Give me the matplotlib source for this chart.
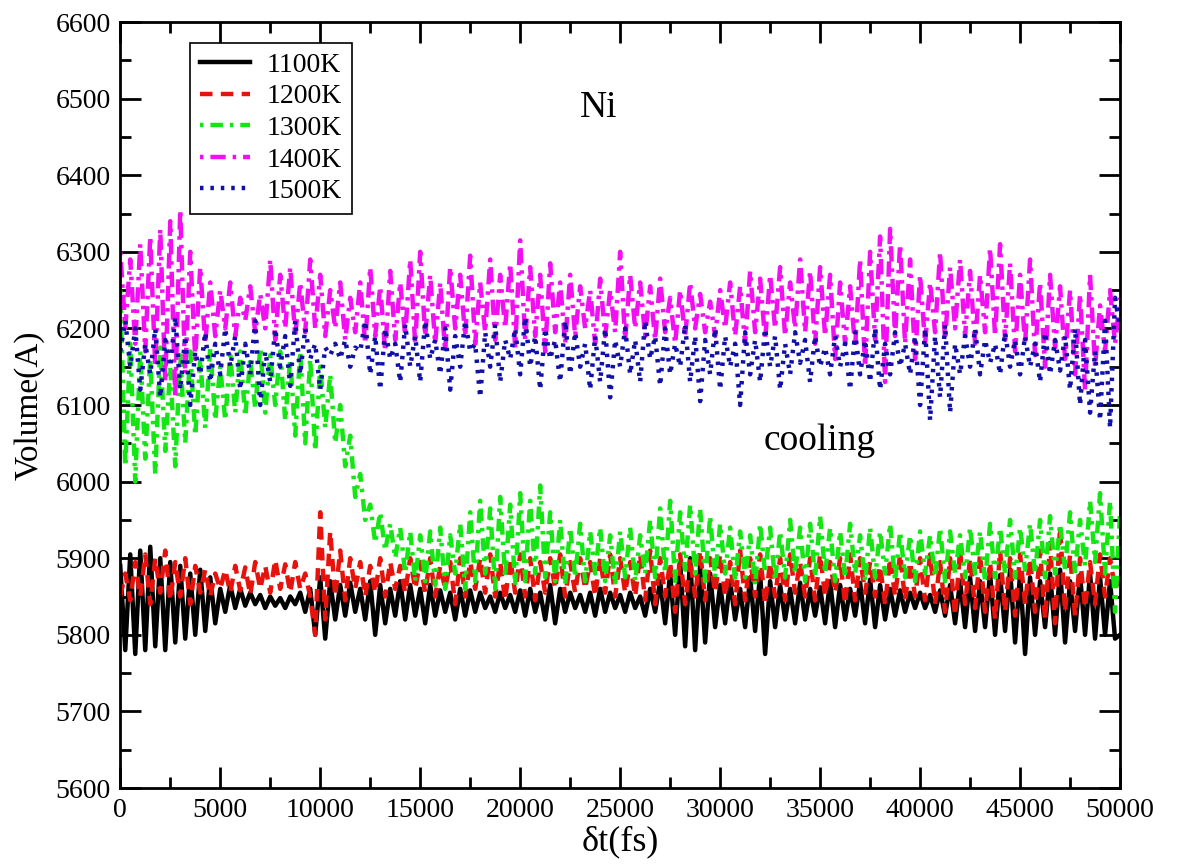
"""Volume of Ni during cooling at several temperatures."""

import numpy as np
import matplotlib
matplotlib.use("Agg")
import matplotlib.pyplot as plt
from matplotlib.ticker import MultipleLocator

plt.rcParams["font.family"] = ["Liberation Serif", "DejaVu Serif"]
plt.rcParams["lines.scale_dashes"] = False

# sample times (fs), one reading every 250 fs
time_fs = np.arange(0, 50001, 250)

vol_1100 = [
    5890, 5780, 5905, 5775, 5910, 5780, 5915, 5785, 5900, 5780, 5895, 5790, 5890, 5795, 5880, 5800, 5885, 5805, 5875, 5815,
    5860, 5830, 5865, 5835, 5860, 5838, 5855, 5840, 5852, 5835, 5850, 5838, 5848, 5835, 5850, 5840, 5855, 5830, 5860, 5800,
    5875, 5795, 5870, 5820, 5865, 5825, 5868, 5830, 5860, 5820, 5870, 5800, 5865, 5815, 5860, 5825, 5870, 5820, 5865, 5825,
    5860, 5815, 5865, 5825, 5858, 5830, 5855, 5820, 5860, 5825, 5858, 5830, 5855, 5835, 5850, 5830, 5855, 5835, 5852, 5830,
    5858, 5825, 5860, 5830, 5855, 5820, 5865, 5815, 5860, 5830, 5855, 5835, 5852, 5830, 5855, 5825, 5860, 5830, 5855, 5835,
    5852, 5830, 5855, 5835, 5850, 5825, 5860, 5830, 5870, 5815, 5880, 5800, 5895, 5785, 5900, 5780, 5890, 5790, 5880, 5810,
    5865, 5815, 5870, 5820, 5860, 5810, 5875, 5805, 5880, 5775, 5870, 5810, 5865, 5820, 5860, 5815, 5868, 5820, 5860, 5825,
    5862, 5815, 5870, 5810, 5865, 5820, 5860, 5825, 5868, 5815, 5872, 5810, 5865, 5820, 5860, 5825, 5858, 5830, 5855, 5835,
    5855, 5835, 5852, 5830, 5858, 5825, 5865, 5815, 5870, 5810, 5875, 5805, 5870, 5810, 5880, 5800, 5878, 5805, 5885, 5790,
    5880, 5775, 5875, 5800, 5870, 5810, 5880, 5800, 5885, 5790, 5870, 5805, 5878, 5800, 5880, 5795, 5875, 5800, 5870, 5795,
    5800,
]

vol_1200 = [
    5850, 5880, 5845, 5895, 5850, 5905, 5840, 5900, 5855, 5910, 5845, 5895, 5850, 5900, 5840, 5890, 5855, 5885, 5850, 5880,
    5860, 5885, 5855, 5890, 5858, 5888, 5852, 5895, 5860, 5890, 5855, 5898, 5860, 5892, 5855, 5895, 5860, 5880, 5850, 5800,
    5960, 5820, 5935, 5850, 5910, 5845, 5900, 5860, 5895, 5850, 5890, 5855, 5900, 5850, 5895, 5860, 5890, 5855, 5900, 5860,
    5895, 5855, 5900, 5850, 5890, 5860, 5895, 5840, 5900, 5850, 5895, 5860, 5900, 5855, 5905, 5850, 5895, 5845, 5900, 5855,
    5905, 5850, 5900, 5845, 5895, 5855, 5900, 5860, 5905, 5850, 5895, 5855, 5900, 5860, 5895, 5850, 5900, 5855, 5905, 5850,
    5900, 5855, 5895, 5850, 5905, 5845, 5910, 5840, 5900, 5850, 5895, 5830, 5905, 5840, 5900, 5850, 5910, 5845, 5900, 5855,
    5905, 5850, 5895, 5840, 5910, 5845, 5900, 5850, 5905, 5840, 5895, 5850, 5900, 5845, 5905, 5855, 5895, 5850, 5900, 5845,
    5905, 5850, 5895, 5855, 5900, 5840, 5905, 5845, 5900, 5855, 5895, 5850, 5890, 5840, 5900, 5850, 5905, 5845, 5895, 5850,
    5900, 5845, 5905, 5840, 5895, 5830, 5900, 5825, 5910, 5840, 5900, 5835, 5905, 5830, 5895, 5820, 5910, 5830, 5900, 5825,
    5905, 5840, 5900, 5830, 5910, 5820, 5920, 5815, 5940, 5830, 5905, 5825, 5900, 5835, 5895, 5840, 5905, 5850, 5900, 5860,
    5870,
]

vol_1300 = [
    6250, 6020, 6180, 6000, 6170, 6030, 6160, 6010, 6175, 6040, 6150, 6020, 6165, 6050, 6170, 6060, 6160, 6070, 6175, 6080,
    6150, 6080, 6165, 6090, 6170, 6085, 6160, 6095, 6175, 6090, 6165, 6100, 6170, 6080, 6160, 6060, 6170, 6050, 6160, 6040,
    6150, 6070, 6140, 6050, 6100, 6020, 6060, 5980, 6010, 5950, 5970, 5920, 5960, 5910, 5945, 5900, 5940, 5880, 5935, 5870,
    5930, 5870, 5935, 5865, 5940, 5860, 5930, 5880, 5945, 5860, 5960, 5870, 5975, 5880, 5965, 5860, 5980, 5875, 5970, 5865,
    5985, 5870, 5975, 5880, 5995, 5875, 5960, 5870, 5950, 5865, 5940, 5875, 5945, 5870, 5935, 5880, 5940, 5870, 5930, 5865,
    5935, 5875, 5940, 5870, 5930, 5880, 5950, 5875, 5965, 5880, 5975, 5870, 5960, 5885, 5970, 5880, 5965, 5870, 5955, 5875,
    5945, 5880, 5940, 5870, 5935, 5875, 5930, 5865, 5945, 5880, 5940, 5870, 5935, 5875, 5950, 5880, 5940, 5870, 5945, 5875,
    5955, 5880, 5940, 5870, 5935, 5875, 5945, 5880, 5930, 5870, 5940, 5875, 5935, 5880, 5945, 5870, 5935, 5875, 5930, 5870,
    5935, 5880, 5930, 5875, 5940, 5870, 5935, 5880, 5930, 5875, 5940, 5880, 5935, 5870, 5945, 5875, 5940, 5880, 5950, 5875,
    5940, 5885, 5945, 5880, 5950, 5875, 5955, 5880, 5945, 5885, 5960, 5880, 5950, 5890, 5975, 5895, 5985, 5880, 5975, 5830,
    5960,
]

vol_1400 = [
    6300, 6200, 6290, 6180, 6310, 6170, 6320, 6150, 6330, 6130, 6340, 6110, 6355, 6140, 6300, 6160, 6280, 6180, 6260, 6190,
    6250, 6200, 6260, 6190, 6240, 6210, 6255, 6195, 6245, 6200, 6290, 6185, 6270, 6200, 6280, 6190, 6260, 6195, 6290, 6200,
    6270, 6190, 6250, 6200, 6260, 6185, 6240, 6195, 6260, 6180, 6280, 6190, 6255, 6170, 6275, 6185, 6260, 6190, 6290, 6180,
    6300, 6190, 6270, 6180, 6260, 6170, 6280, 6200, 6270, 6190, 6295, 6180, 6260, 6195, 6290, 6185, 6270, 6200, 6285, 6175,
    6315, 6185, 6280, 6190, 6270, 6170, 6285, 6195, 6260, 6180, 6270, 6190, 6255, 6200, 6250, 6180, 6265, 6190, 6250, 6195,
    6300, 6185, 6270, 6200, 6260, 6190, 6255, 6185, 6265, 6195, 6240, 6180, 6250, 6190, 6260, 6200, 6245, 6195, 6235, 6190,
    6250, 6200, 6260, 6190, 6255, 6180, 6275, 6195, 6265, 6185, 6270, 6200, 6280, 6190, 6260, 6200, 6290, 6195, 6275, 6180,
    6280, 6190, 6270, 6160, 6260, 6180, 6255, 6175, 6290, 6150, 6300, 6185, 6320, 6130, 6330, 6190, 6310, 6180, 6290, 6160,
    6270, 6180, 6260, 6195, 6300, 6185, 6280, 6200, 6290, 6190, 6275, 6180, 6270, 6195, 6305, 6190, 6310, 6185, 6285, 6170,
    6270, 6180, 6290, 6165, 6260, 6150, 6270, 6175, 6255, 6160, 6250, 6140, 6245, 6120, 6270, 6150, 6230, 6170, 6250, 6180,
    6240,
]

vol_1500 = [
    6170, 6210, 6150, 6200, 6120, 6180, 6140, 6200, 6110, 6185, 6150, 6215, 6120, 6190, 6100, 6170, 6140, 6195, 6130, 6180,
    6140, 6200, 6150, 6190, 6120, 6180, 6140, 6210, 6100, 6170, 6130, 6200, 6150, 6190, 6125, 6210, 6140, 6200, 6160, 6180,
    6120, 6175, 6165, 6180, 6160, 6185, 6150, 6175, 6170, 6210, 6140, 6190, 6120, 6200, 6160, 6180, 6130, 6205, 6150, 6190,
    6130, 6210, 6160, 6185, 6140, 6200, 6120, 6190, 6150, 6210, 6170, 6180, 6110, 6195, 6150, 6205, 6130, 6185, 6160, 6200,
    6140, 6215, 6150, 6190, 6120, 6200, 6160, 6185, 6130, 6210, 6140, 6195, 6150, 6180, 6120, 6190, 6130, 6200, 6110, 6185,
    6150, 6200, 6140, 6185, 6130, 6210, 6160, 6190, 6125, 6200, 6140, 6180, 6150, 6205, 6130, 6190, 6105, 6185, 6140, 6200,
    6120, 6190, 6150, 6180, 6100, 6195, 6140, 6185, 6130, 6200, 6150, 6190, 6120, 6180, 6140, 6195, 6155, 6185, 6130, 6190,
    6150, 6175, 6140, 6190, 6150, 6180, 6120, 6195, 6140, 6185, 6130, 6200, 6120, 6180, 6140, 6195, 6150, 6180, 6140, 6190,
    6100, 6200, 6080, 6190, 6110, 6205, 6090, 6180, 6140, 6190, 6150, 6200, 6140, 6185, 6155, 6180, 6140, 6195, 6150, 6185,
    6140, 6190, 6150, 6180, 6130, 6195, 6140, 6185, 6145, 6190, 6120, 6200, 6100, 6185, 6090, 6170, 6080, 6210, 6070, 6240,
    6200,
]

labels = ["1100K", "1200K", "1300K", "1400K", "1500K"]

fig = plt.figure(figsize=(11.79, 8.67), dpi=100)
ax = fig.add_axes([0.102, 0.0911, 0.848, 0.8835])

lw = 3.2
ax.plot(time_fs, vol_1100, color="black", lw=lw, label=labels[0])
ax.plot(time_fs, vol_1200, color="#e8120c", lw=lw, dashes=(9, 6), label=labels[1])
ax.plot(time_fs, vol_1300, color="#14e614", lw=lw, dashes=(2.5, 5, 9, 5), label=labels[2])
ax.plot(time_fs, vol_1400, color="#f20ff2", lw=lw, dashes=(2.5, 5, 11, 5), label=labels[3])
ax.plot(time_fs, vol_1500, color="#1010a8", lw=lw, dashes=(2.5, 5), label=labels[4])

ax.set_xlim(0, 50000)
ax.set_ylim(5600, 6600)
ax.xaxis.set_major_locator(MultipleLocator(5000))
ax.xaxis.set_minor_locator(MultipleLocator(2500))
ax.yaxis.set_major_locator(MultipleLocator(100))
ax.yaxis.set_minor_locator(MultipleLocator(50))
ax.tick_params(which="both", direction="in", top=True, right=True,
               labelsize=20, width=2, pad=7)
ax.tick_params(which="major", length=15)
ax.tick_params(which="minor", length=8)
for spine in ax.spines.values():
    spine.set_linewidth(2)

ax.set_xlabel("δt(fs)", fontsize=26, labelpad=2)
ax.set_ylabel("Volume(A)", fontsize=24, labelpad=8)

ax.text(23900, 6488, "Ni", fontsize=27, ha="center", va="center")
ax.text(35000, 6054, "cooling", fontsize=27, ha="center", va="center")

leg = ax.legend(loc="upper left", bbox_to_anchor=(0.07, 0.973),
                borderaxespad=0, fontsize=20, fancybox=False,
                edgecolor="black", framealpha=1, handlelength=1.8,
                handletextpad=0.6, labelspacing=0.22, borderpad=0.35)
leg.get_frame().set_linewidth(1.2)

fig.savefig("out.png", dpi=100)
